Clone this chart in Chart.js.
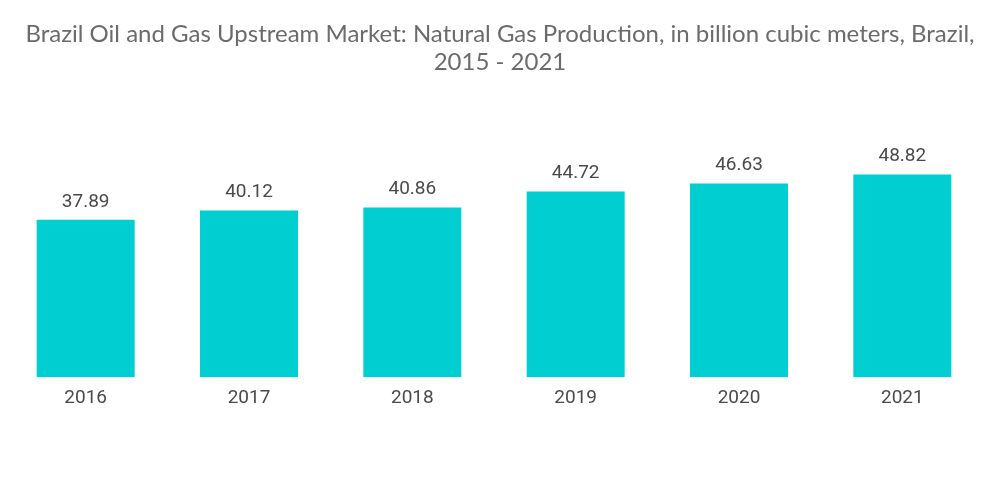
<!DOCTYPE html>
<html>
<head>
<meta charset="utf-8">
<script src="https://cdn.jsdelivr.net/npm/chart.js@4"></script>
<style>
  html, body { margin: 0; padding: 0; background: #fff; }
  #wrap { position: relative; width: 1000px; height: 504px; }
  #title {
    position: absolute; left: 0; top: 19px; width: 1000px;
    text-align: center; font-family: Lato, "Open Sans", sans-serif;
    font-size: 24px; line-height: 28px; color: #6b6b6b;
  }
  canvas { position: absolute; left: 0; top: 0; }
</style>
</head>
<body>
<div id="wrap">
  <canvas id="myChart" width="1000" height="504"></canvas>
  <div id="title">Brazil Oil and Gas Upstream Market: Natural Gas Production, in billion cubic meters, Brazil,<br>2015 - 2021</div>
</div>
<script>
const years = ["2016", "2017", "2018", "2019", "2020", "2021"];
const production = [37.89, 40.12, 40.86, 44.72, 46.63, 48.82];

// value labels above each bar
const barLabels = {
  id: "barLabels",
  afterDatasetsDraw(chart) {
    const { ctx } = chart;
    const meta = chart.getDatasetMeta(0);
    ctx.save();
    ctx.font = "19px Roboto, sans-serif";
    ctx.fillStyle = "#4a4a4a";
    ctx.textAlign = "center";
    ctx.textBaseline = "middle";
    meta.data.forEach((bar, i) => {
      ctx.fillText(production[i].toFixed(2), bar.x, bar.y - 18);
    });
    ctx.restore();
  },
};

const ctx = document.getElementById("myChart").getContext("2d");
new Chart(ctx, {
  type: "bar",
  data: {
    labels: years,
    datasets: [
      {
        data: production,
        backgroundColor: "#00ced1",
        barPercentage: 0.6,
        categoryPercentage: 1,
      },
    ],
  },
  options: {
    responsive: false,
    animation: false,
    layout: { padding: { top: 128, bottom: 92, left: 4, right: 16 } },
    scales: {
      x: {
        grid: { display: false },
        border: { display: false },
        ticks: {
          color: "#4a4a4a",
          padding: 2,
          font: { family: "Roboto, sans-serif", size: 19 },
        },
      },
      y: {
        display: false,
        min: 0,
        max: 60,
      },
    },
    plugins: {
      legend: { display: false },
      tooltip: { enabled: false },
    },
  },
  plugins: [barLabels],
});
</script>
</body>
</html>
